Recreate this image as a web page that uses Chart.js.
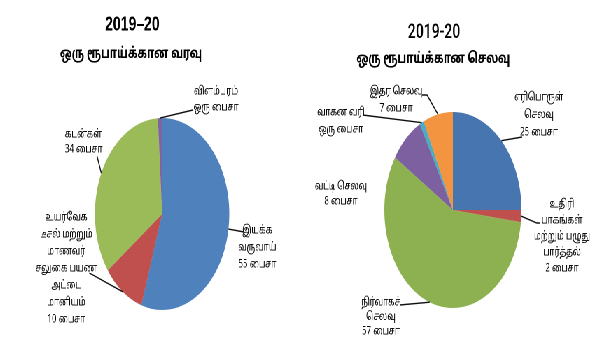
<!DOCTYPE html>
<html>
<head>
<meta charset="utf-8">
<script src="https://cdn.jsdelivr.net/npm/chart.js@4"></script>
<style>
  body { margin: 0; background: #fff; }
  /* the whole sheet is drawn wide and then squeezed, like the printed page */
  #sheet { position: absolute; left: 0; top: 0; width: 857px; height: 338px;
           transform: scaleX(0.7); transform-origin: 0 0; }
  .half { position: absolute; top: 0; width: 428px; height: 338px; }
</style>
</head>
<body>
<div id="sheet">
  <div class="half" style="left:0"><canvas id="varavu"></canvas></div>
  <div class="half" style="left:428px"><canvas id="selavu"></canvas></div>
</div>
<script>
var TAMIL = '"Noto Sans Tamil", "Liberation Sans", sans-serif';
var LATIN = '"Liberation Sans", Arial, sans-serif';

// வரவு (income per rupee, in paise)
var varavuNames = [
  ["இயக்க", "வருவாய்"],
  ["உயர்வேக", "டீசல் மற்றும்", "மாணவர்", "சலுகை பயண", "அட்டை", "மானியம்"],
  ["கடன்கள்"],
  ["விளம்பரம்"]
];
var varavuPaise = [55, 10, 34, 1];
var varavuColors = ["#4F81BD", "#C0504D", "#9BBB59", "#8064A2"];

// செலவு (expense per rupee, in paise)
var selavuNames = [
  ["எரிபொருள்", "செலவு"],
  ["உதிரி", "பாகங்கள்", "மற்றும் பழுது", "பார்த்தல்"],
  ["நிர்வாகச்", "செலவு"],
  ["வட்டி செலவு"],
  ["வாகன வரி"],
  ["இதர செலவு"]
];
var selavuPaise = [25, 2, 57, 8, 1, 7];
var selavuColors = ["#4675AF", "#C0504D", "#8DB150", "#7D60A0", "#4BACC6", "#F39440"];

function paiseText(v) {
  return (v === 1 ? "ஒரு" : String(v)) + " பைசா";
}

// label blocks, relative to the pie centre; line = points from the slice edge outwards
var varavuPlaces = [
  { x: 136, y: 17, step: 17, line: [[117, 18]] },
  { x: -137, y: 4, step: 17, line: [[-104, 59]] },
  { x: -139, y: -79, step: 15, align: "left", line: [[-93, -58]] },
  { x: 77, y: -122, step: 16, line: [[44, -104]] }
];
var selavuPlaces = [
  { x: 123, y: -112, step: 17.5, line: [[99, -73]] },
  { x: 156, y: -5, step: 16, line: [[120, 13], [124, 13]] },
  { x: -103, y: 93, step: 14.5, line: [[-76, 95]] },
  { x: -160, y: -23, step: 15, line: null },
  { x: -160, y: -97, step: 17, line: [[-129, -95]] },
  { x: -81, y: -118, step: 17, line: [[-37, -115], [-44, -115]] }
];

var leaderLabels = {
  id: "leaderLabels",
  afterDatasetsDraw: function (chart, args, opts) {
    var ctx = chart.ctx;
    var meta = chart.getDatasetMeta(0);
    var names = chart.data.labels;
    var values = chart.data.datasets[0].data;
    ctx.save();
    ctx.fillStyle = "#000";
    ctx.textBaseline = "middle";

    opts.titles.forEach(function (t) {
      ctx.font = t.font;
      ctx.textAlign = "center";
      ctx.fillText(t.text, t.x, t.y);
    });

    ctx.font = "11.5px " + TAMIL;
    ctx.strokeStyle = "#111";
    ctx.lineWidth = 1.4;
    meta.data.forEach(function (arc, i) {
      var p = opts.places[i];
      var cx = arc.x, cy = arc.y;
      if (p.line) {
        var mid = (arc.startAngle + arc.endAngle) / 2;
        ctx.beginPath();
        ctx.moveTo(cx + Math.cos(mid) * arc.outerRadius, cy + Math.sin(mid) * arc.outerRadius);
        p.line.forEach(function (pt) { ctx.lineTo(cx + pt[0], cy + pt[1]); });
        ctx.stroke();
      }
      var lines = names[i].concat([paiseText(values[i])]);
      ctx.textAlign = p.align || "center";
      lines.forEach(function (s, k) {
        ctx.fillText(s, cx + p.x, cy + p.y + k * p.step);
      });
    });
    ctx.restore();
  }
};

function pie(id, names, values, colors, pad, radius, titles, places) {
  return new Chart(document.getElementById(id), {
    type: "pie",
    data: {
      labels: names,
      datasets: [{
        data: values,
        backgroundColor: colors,
        borderWidth: 0,
        radius: radius
      }]
    },
    options: {
      responsive: true,
      maintainAspectRatio: false,
      devicePixelRatio: 2,
      animation: false,
      layout: { padding: pad },
      plugins: {
        legend: { display: false },
        tooltip: { enabled: false },
        leaderLabels: { titles: titles, places: places }
      }
    },
    plugins: [leaderLabels]
  });
}

pie("varavu", varavuNames, varavuPaise, varavuColors,
  { left: 40, right: 5, top: 110, bottom: 20 }, 96,
  [
    { text: "2019–20", x: 189, y: 25, font: "bold 20px " + LATIN },
    { text: "ஒரு ரூபாய்க்கான வரவு", x: 187, y: 55, font: "bold 15px " + TAMIL }
  ],
  varavuPlaces);

pie("selavu", selavuNames, selavuPaise, selavuColors,
  { left: 15, right: 5, top: 100, bottom: 18 }, 98,
  [
    { text: "2019-20", x: 192, y: 33, font: "500 20px Roboto, " + LATIN },
    { text: "ஒரு ரூபாய்க்கான செலவு", x: 191, y: 60, font: "bold 15px " + TAMIL }
  ],
  selavuPlaces);
</script>
</body>
</html>
